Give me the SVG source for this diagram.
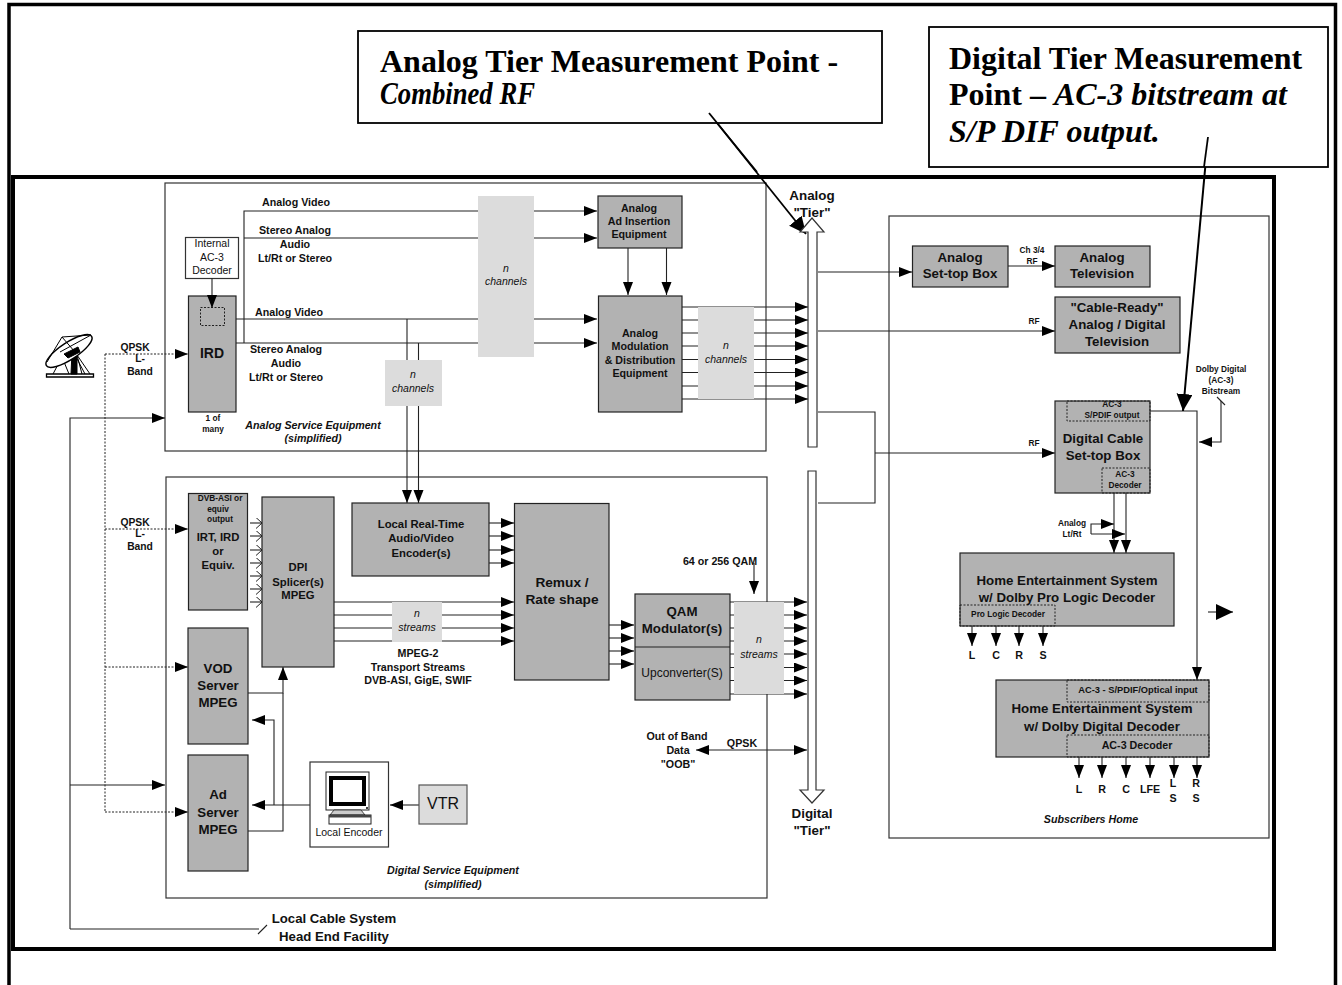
<svg xmlns="http://www.w3.org/2000/svg" width="1342" height="985" viewBox="0 0 1342 985">
<style>
text{font-family:"Liberation Sans",Arial,sans-serif;fill:#111;text-anchor:middle}
.s{font-family:"Liberation Serif","Times New Roman",serif;font-weight:bold;font-size:32px;text-anchor:start;fill:#000}
.si{font-style:italic}
.b{font-weight:bold;font-size:10.7px}
.q{font-weight:bold;font-size:10.3px}
.t{font-weight:bold;font-size:13.4px}
.b8{font-weight:bold;font-size:8.3px}
.b11{font-weight:bold;font-size:11.3px}
.b13{font-weight:bold;font-size:13.3px}
.r{font-size:10.5px}
.i{font-style:italic;font-size:10.5px}
.bi{font-style:italic;font-weight:bold;font-size:10.7px}
.g{fill:#b2b2b2;stroke:#222;stroke-width:1.2}
.lg{fill:#dcdcdc}
.box{fill:#fff;stroke:#333;stroke-width:1.2}
.cont{fill:none;stroke:#333;stroke-width:1.2}
.dot{fill:none;stroke:#222;stroke-width:1;stroke-dasharray:2 1.5}
.l{fill:none;stroke:#222;stroke-width:1.1}
.a{marker-end:url(#ah)}
.o{marker-end:url(#oh)}
.bg{marker-end:url(#big)}
.d{fill:none;stroke:#222;stroke-width:1;stroke-dasharray:2 1.5;marker-end:url(#ah)}
.tier{fill:#fff;stroke:#333;stroke-width:1.2}
</style>
<defs>
<marker id="ah" markerUnits="userSpaceOnUse" markerWidth="14" markerHeight="11" refX="13" refY="5" orient="auto"><path d="M0 0L13 5L0 10z" fill="#000"/></marker>
<marker id="ahs" markerUnits="userSpaceOnUse" markerWidth="14" markerHeight="11" refX="0" refY="5" orient="auto"><path d="M13 0L0 5L13 10z" fill="#000"/></marker>
<marker id="oh" markerUnits="userSpaceOnUse" markerWidth="9" markerHeight="12" refX="7.5" refY="5.5" orient="auto"><path d="M1.500 0L7.500 5.500L1.500 11" fill="none" stroke="#222"/></marker>
<marker id="big" markerUnits="userSpaceOnUse" markerWidth="19" markerHeight="17" refX="17" refY="8" orient="auto"><path d="M0 0L17 8L0 16z" fill="#000"/></marker>
</defs>

<g id="frames">
<path d="M9 985V4.500H1335.500V985" fill="none" stroke="#000" stroke-width="3.500"/>
<rect x="13" y="177" width="1261" height="772" fill="#fff" stroke="#000" stroke-width="4"/>
<rect x="165" y="183" width="601" height="268" class="cont"/>
<rect x="166" y="477" width="601" height="421" class="cont"/>
<rect x="889" y="216" width="380" height="622" class="cont"/>
</g>

<g id="connectors">
<path class="l a" d="M244 343V211H597"/>
<path class="l a" d="M244 238H597"/>
<path class="l a" d="M236 319H597"/>
<path class="l a" d="M236 343H597"/>
<path class="l a" d="M407 319V503"/>
<path class="l a" d="M418.500 343V503"/>
<path class="l a" d="M628 248V295"/>
<path class="l a" d="M666.500 248V295"/>
<path class="l a" d="M682 307H808"/><path class="l a" d="M682 320H808"/><path class="l a" d="M682 333H808"/><path class="l a" d="M682 346H808"/><path class="l a" d="M682 359.500H808"/><path class="l a" d="M682 372.500H808"/><path class="l a" d="M682 386H808"/><path class="l a" d="M682 399H808"/>
<path class="d" d="M105 354H188"/>
<path class="dot" d="M105 354V812"/>
<path class="d" d="M105 529H188"/>
<path class="d" d="M105 667H188"/>
<path class="d" d="M105 812H188"/>
<path class="l a" d="M70 929V418H165"/>
<path class="l a" d="M70 785H165"/>
<path class="l" d="M70 929H259M258 934L267 925"/>
<path class="l a" d="M818 272H912"/>
<path class="l a" d="M818 331H1055"/>
<path class="l" d="M818 412H875V503H818"/>
<path class="l a" d="M875 453H1055"/>
<path class="l a" d="M1008 266H1055"/>
<path class="l a" d="M1150 411H1197V680"/>
<path class="l a" d="M1221 401V442H1199"/>
<path class="l" d="M1217 397L1225 405"/>
<path class="l a" d="M1114 493V553"/>
<path class="l a" d="M1126 493V553"/>
<path class="l a" d="M1091 534V524H1114"/>
<path class="l a" d="M1091 534H1125"/>
<path class="l a" d="M972 626V646"/><path class="l a" d="M996 626V646"/><path class="l a" d="M1019 626V646"/><path class="l a" d="M1043 626V646"/>
<path class="l bg" d="M1208 612H1233" stroke-width="1.500"/>
<path class="l a" d="M1079 757V778"/><path class="l a" d="M1102 757V778"/><path class="l a" d="M1126 757V778"/><path class="l a" d="M1150 757V778"/><path class="l a" d="M1174 757V778"/><path class="l a" d="M1197 757V778"/>
<path class="l o" d="M250 523H262"/><path class="l o" d="M250 536H262"/><path class="l o" d="M250 550H262"/><path class="l o" d="M250 563H262"/><path class="l o" d="M250 576H262"/><path class="l o" d="M250 589H262"/><path class="l o" d="M250 602H262"/>
<path class="l a" d="M489 523H514"/><path class="l a" d="M489 536H514"/><path class="l a" d="M489 550H514"/><path class="l a" d="M489 563H514"/>
<path class="l a" d="M334 602H514"/><path class="l a" d="M334 615H514"/><path class="l a" d="M334 628H514"/><path class="l a" d="M334 641H514"/>
<path class="l a" d="M609 625H634"/><path class="l a" d="M609 638H634"/><path class="l a" d="M609 651H634"/><path class="l a" d="M609 664H634"/>
<path class="l a" d="M730 602H807"/><path class="l a" d="M730 615H807"/><path class="l a" d="M730 628H807"/><path class="l a" d="M730 641H807"/><path class="l a" d="M730 654H807"/><path class="l a" d="M730 667.500H807"/><path class="l a" d="M730 680.500H807"/><path class="l a" d="M730 694H807"/>
<path class="l a" d="M754 563V594"/>
<path class="l" d="M696 750H807" marker-start="url(#ahs)" marker-end="url(#ah)"/>
<path class="l a" d="M248 693H283V667"/>
<path class="l" d="M248 831H283V693"/>
<path class="l a" d="M274 805V720H252"/>
<path class="l a" d="M310 805H252"/>
<path class="l a" d="M419 805H390"/>
<path d="M709 113L806 234" fill="none" stroke="#000" stroke-width="1.800" marker-end="url(#big)"/>
<path d="M1208 137L1183 411" fill="none" stroke="#000" stroke-width="2" marker-end="url(#big)"/>
</g>

<g id="analog-tier"><path class="tier" d="M808 447V232H800L812 218L824 232H817V447z"/><text class="t"><tspan x="812" y="200">Analog</tspan><tspan x="812" y="217">"Tier"</tspan></text></g>
<g id="digital-tier"><path class="tier" d="M808 471V790H800L812 803L824 790H816V471z"/><text class="t"><tspan x="812" y="818">Digital</tspan><tspan x="812" y="835">"Tier"</tspan></text></g>

<g id="analog-point"><rect x="358" y="31" width="524" height="92" fill="#fff" stroke="#000" stroke-width="1.800"/><text class="s" x="380" y="72">Analog Tier Measurement Point -</text><text class="s si" x="380" y="104" textLength="155" lengthAdjust="spacingAndGlyphs">Combined RF</text></g>
<path d="M709 113L757 172" fill="none" stroke="#000" stroke-width="1.800"/>
<g id="digital-point"><rect x="929" y="27" width="399" height="140" fill="#fff" stroke="#000" stroke-width="1.800"/><text class="s" y="69"><tspan x="949">Digital Tier Measurement</tspan><tspan x="949" y="105">Point – </tspan><tspan class="si">AC-3 bitstream at</tspan><tspan x="949" y="142" class="si">S/P DIF output.</tspan></text></g>
<path d="M1208 137L1204 167" fill="none" stroke="#000" stroke-width="1.800"/>

<g id="dish" fill="none" stroke="#000">
<path d="M46.500 374H93.500V377H46.500z" fill="#fff" stroke-width="1.300"/>
<path d="M72 352H77V374H71z" fill="#000"/>
<path d="M53 374L62 357L69 374M82 374L77 355L90 374M75 355L85 374" stroke-width="1"/>
<ellipse cx="69" cy="351" rx="27" ry="8.500" transform="rotate(-33 69 351)" fill="#fff" stroke-width="1.500"/>
<path d="M47 362L62 337L91 335M62 337L75 352M91 335L60 352" stroke-width="1"/>
<path d="M64 354L78 347L80 352L68 358z" fill="#000"/>
</g>

<g id="analog-labels">
<text class="b" x="296" y="206">Analog Video</text>
<text class="b"><tspan x="295" y="234">Stereo Analog</tspan><tspan x="295" y="248">Audio</tspan><tspan x="295" y="262">Lt/Rt or Stereo</tspan></text>
<text class="b" x="289" y="316">Analog Video</text>
<text class="b"><tspan x="286" y="353">Stereo Analog</tspan><tspan x="286" y="367">Audio</tspan><tspan x="286" y="381">Lt/Rt or Stereo</tspan></text>
<text class="q"><tspan x="135" y="351">QPSK</tspan><tspan x="140" y="362">L-</tspan><tspan x="140" y="375">Band</tspan></text>
<text class="q"><tspan x="135" y="526">QPSK</tspan><tspan x="140" y="537">L-</tspan><tspan x="140" y="550">Band</tspan></text>
<text class="bi"><tspan x="313" y="429">Analog Service Equipment</tspan><tspan x="313" y="442">(simplified)</tspan></text>
</g>

<g id="internal-decoder"><rect class="box" x="185.500" y="237.500" width="53" height="41"/><text class="r"><tspan x="212" y="247">Internal</tspan><tspan x="212" y="261">AC-3</tspan><tspan x="212" y="274">Decoder</tspan></text></g>
<g id="ird"><rect class="g" x="188.500" y="296" width="47.500" height="116"/><rect class="dot" x="200.500" y="307.500" width="24" height="18"/><text class="b" style="font-size:14px" x="212" y="358">IRD</text><text class="b8"><tspan x="213" y="421">1 of</tspan><tspan x="213" y="432">many</tspan></text></g>
<path class="l a" d="M212 278V308"/>
<g id="channels-1"><rect class="lg" x="478" y="196" width="56" height="161"/><text class="i"><tspan x="506" y="272">n</tspan><tspan x="506" y="285">channels</tspan></text></g>
<g id="channels-2"><rect class="lg" x="385" y="360" width="57" height="46"/><text class="i"><tspan x="413" y="378">n</tspan><tspan x="413" y="392">channels</tspan></text></g>
<g id="channels-3"><rect class="lg" x="698" y="307" width="56" height="92"/><text class="i"><tspan x="726" y="349">n</tspan><tspan x="726" y="363">channels</tspan></text></g>
<g id="ad-insertion"><rect class="g" x="598" y="196" width="84" height="52"/><text class="b"><tspan x="639" y="212">Analog</tspan><tspan x="639" y="225">Ad Insertion</tspan><tspan x="639" y="238">Equipment</tspan></text></g>
<g id="modulation"><rect class="g" x="598.500" y="296" width="83.500" height="116"/><text class="b"><tspan x="640" y="337">Analog</tspan><tspan x="640" y="350">Modulation</tspan><tspan x="640" y="364">&amp; Distribution</tspan><tspan x="640" y="377">Equipment</tspan></text></g>

<g id="analog-stb"><rect class="g" x="912.500" y="246" width="95.500" height="41"/><text class="b13"><tspan x="960" y="262">Analog</tspan><tspan x="960" y="278">Set-top Box</tspan></text></g>
<text class="b8" id="ch34"><tspan x="1032" y="253">Ch 3/4</tspan><tspan x="1032" y="264">RF</tspan></text>
<g id="analog-tv"><rect class="g" x="1055" y="246" width="95" height="41"/><text class="b13"><tspan x="1102" y="262">Analog</tspan><tspan x="1102" y="278">Television</tspan></text></g>
<g id="cable-ready"><rect class="g" x="1055" y="297" width="125" height="56"/><text class="b13"><tspan x="1117" y="312">"Cable-Ready"</tspan><tspan x="1117" y="329">Analog / Digital</tspan><tspan x="1117" y="346">Television</tspan></text></g>
<text class="b8" x="1034" y="324">RF</text>
<text class="b8" x="1034" y="446">RF</text>
<g id="digital-stb"><rect class="g" x="1055" y="401" width="95" height="92"/><rect class="dot" x="1067" y="401" width="83" height="20"/><rect class="dot" x="1102" y="468" width="48" height="25"/><text class="b8"><tspan x="1112" y="407">AC-3</tspan><tspan x="1112" y="418">S/PDIF output</tspan></text><text class="b13"><tspan x="1103" y="443">Digital Cable</tspan><tspan x="1103" y="460">Set-top Box</tspan></text><text class="b8"><tspan x="1125" y="477">AC-3</tspan><tspan x="1125" y="488">Decoder</tspan></text></g>
<text class="b8" id="dolby"><tspan x="1221" y="372">Dolby Digital</tspan><tspan x="1221" y="383">(AC-3)</tspan><tspan x="1221" y="394">Bitstream</tspan></text>
<text class="b8" id="lt-rt"><tspan x="1072" y="526">Analog</tspan><tspan x="1072" y="537">Lt/Rt</tspan></text>
<g id="home-pl"><rect class="g" x="960" y="553" width="214" height="73"/><rect class="dot" x="960" y="605" width="95" height="21"/><text class="b13"><tspan x="1067" y="585">Home Entertainment System</tspan><tspan x="1067" y="602">w/ Dolby Pro Logic Decoder</tspan></text><text class="b8" x="1008" y="617">Pro Logic Decoder</text></g>
<text class="b" y="659"><tspan x="972">L</tspan><tspan x="996">C</tspan><tspan x="1019">R</tspan><tspan x="1043">S</tspan></text>
<g id="home-dd"><rect class="g" x="996" y="680" width="213" height="77"/><rect class="dot" x="1067" y="680" width="142" height="22"/><rect class="dot" x="1067" y="735" width="142" height="22"/><text class="b" style="font-size:9.300px" x="1138" y="693">AC-3 - S/PDIF/Optical input</text><text class="b13"><tspan x="1102" y="713">Home Entertainment System</tspan><tspan x="1102" y="731">w/ Dolby Digital Decoder</tspan></text><text class="b" x="1137" y="749">AC-3 Decoder</text></g>
<text class="b" y="793"><tspan x="1079">L</tspan><tspan x="1102">R</tspan><tspan x="1126">C</tspan><tspan x="1150">LFE</tspan></text>
<text class="b"><tspan x="1173" y="787">L</tspan><tspan x="1173" y="802">S</tspan></text>
<text class="b"><tspan x="1196" y="787">R</tspan><tspan x="1196" y="802">S</tspan></text>
<text class="bi" x="1091" y="823">Subscribers Home</text>

<g id="irt"><rect class="g" x="188.500" y="493.500" width="59" height="116.500"/><text class="b8"><tspan x="220" y="501">DVB-ASI or</tspan><tspan x="218" y="512">equiv</tspan><tspan x="220" y="522">output</tspan></text><text class="b11"><tspan x="218" y="541">IRT, IRD</tspan><tspan x="218" y="555">or</tspan><tspan x="218" y="569">Equiv.</tspan></text></g>
<g id="dpi"><rect class="g" x="262" y="497" width="72" height="170"/><text class="b11"><tspan x="298" y="571">DPI</tspan><tspan x="298" y="586">Splicer(s)</tspan><tspan x="298" y="599">MPEG</tspan></text></g>
<g id="encoder"><rect class="g" x="352" y="503" width="137" height="73"/><text class="b11"><tspan x="421" y="528">Local Real-Time</tspan><tspan x="421" y="542">Audio/Video</tspan><tspan x="421" y="557">Encoder(s)</tspan></text></g>
<g id="streams-1"><rect class="lg" x="392" y="602" width="50" height="40"/><text class="i"><tspan x="417" y="617">n</tspan><tspan x="417" y="631">streams</tspan></text></g>
<text class="b"><tspan x="418" y="657">MPEG-2</tspan><tspan x="418" y="671">Transport Streams</tspan><tspan x="418" y="684">DVB-ASI, GigE, SWIF</tspan></text>
<g id="remux"><rect class="g" x="514.500" y="503.500" width="94.500" height="176.500"/><text class="b" style="font-size:13.700px"><tspan x="562" y="587">Remux /</tspan><tspan x="562" y="604">Rate shape</tspan></text></g>
<g id="qam"><rect class="g" x="635" y="594" width="95" height="106"/><path d="M635 647H730" stroke="#222" fill="none"/><text class="b13"><tspan x="682" y="616">QAM</tspan><tspan x="682" y="633">Modulator(s)</tspan></text><text style="font-size:12px" x="682" y="677">Upconverter(S)</text></g>
<g id="streams-2"><rect class="lg" x="734" y="602" width="50" height="92"/><text class="i"><tspan x="759" y="643">n</tspan><tspan x="759" y="658">streams</tspan></text></g>
<text class="b" x="720" y="565">64 or 256 QAM</text>
<text class="b"><tspan x="677" y="740">Out of Band</tspan><tspan x="678" y="754">Data</tspan><tspan x="678" y="768">"OOB"</tspan></text>
<text class="b" x="742" y="747">QPSK</text>
<g id="vod"><rect class="g" x="188" y="628" width="60" height="116"/><text class="b13"><tspan x="218" y="673">VOD</tspan><tspan x="218" y="690">Server</tspan><tspan x="218" y="707">MPEG</tspan></text></g>
<g id="ad-server"><rect class="g" x="188" y="755" width="60" height="116"/><text class="b13"><tspan x="218" y="799">Ad</tspan><tspan x="218" y="817">Server</tspan><tspan x="218" y="834">MPEG</tspan></text></g>
<g id="local-encoder"><rect class="box" x="310" y="762" width="78.500" height="85"/>
<rect x="326" y="772" width="43" height="38" fill="#fff" stroke="#222"/><rect x="331" y="778" width="33" height="26" fill="#fff" stroke="#000" stroke-width="4"/><path d="M334 810H361L365 815H330z" fill="#ccc" stroke="#222" stroke-width=".8"/><rect x="329" y="815" width="42" height="9" fill="#fff" stroke="#222"/><rect x="329" y="815" width="42" height="2.500" fill="#444"/><circle cx="367" cy="808" r="1" fill="#000"/>
<text class="r" x="349" y="836">Local Encoder</text></g>
<g id="vtr"><rect x="419" y="785" width="48" height="39" fill="#dcdcdc" stroke="#555" stroke-width="1.200"/><text style="font-size:16px" x="443" y="809">VTR</text></g>
<text class="bi"><tspan x="453" y="874">Digital Service Equipment</tspan><tspan x="453" y="888">(simplified)</tspan></text>
<text class="b" style="font-size:13.200px"><tspan x="334" y="923">Local Cable System</tspan><tspan x="334" y="941">Head End Facility</tspan></text>
</svg>
